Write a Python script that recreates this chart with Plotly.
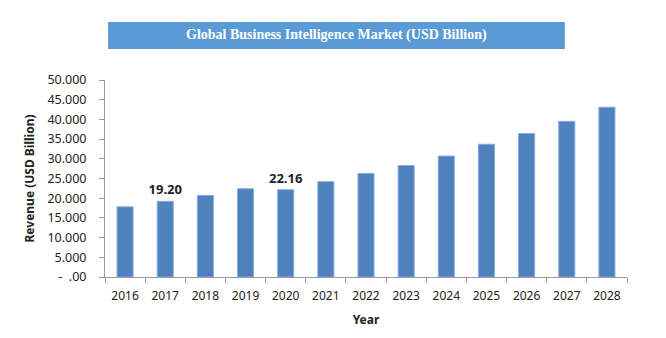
import plotly.graph_objects as go

years = ["2016", "2017", "2018", "2019", "2020", "2021", "2022",
         "2023", "2024", "2025", "2026", "2027", "2028"]
revenue = [17.8, 19.20, 20.7, 22.4, 22.16, 24.2, 26.3, 28.3, 30.7, 33.7, 36.4, 39.5, 43.1]
labels = ["", "<b>19.20</b>", "", "", "<b>22.16</b>", "", "", "", "", "", "", "", ""]
ytick_vals = [0, 5, 10, 15, 20, 25, 30, 35, 40, 45, 50]
ytick_text = ["-  .00", "5.000", "10.000", "15.000", "20.000", "25.000", "30.000",
              "35.000", "40.000", "45.000", "50.000"]
title_text = "Global Business Intelligence Market (USD Billion)"

fig = go.Figure()
fig.add_trace(go.Bar(
    x=years, y=revenue, text=labels, textposition="outside",
    constraintext="none",
    textfont=dict(family="Noto Sans", size=13, color="#222"),
    cliponaxis=False,
    marker=dict(color="#4F81BD", line=dict(color="#86acdc", width=1)),
    width=0.4, hoverinfo="x+y",
))

fig.add_shape(type="rect", xref="paper", yref="paper",
              x0=0.006, x1=0.881, y0=1.157, y1=1.294,
              fillcolor="#5B9BD5", line=dict(width=0), layer="above")
fig.add_annotation(xref="paper", yref="paper", x=0.443, y=1.23,
                   xanchor="center", yanchor="middle",
                   text="<b>" + title_text + "</b>", showarrow=False,
                   font=dict(family="Liberation Serif", size=14, color="white"))

fig.update_layout(
    width=666, height=338,
    margin=dict(l=105, r=39, t=80, b=61),
    paper_bgcolor="white", plot_bgcolor="white",
    showlegend=False, bargap=0.6,
    font=dict(family="Noto Sans", size=12, color="#222"),
)
fig.update_xaxes(
    showline=True, linecolor="#999", linewidth=1,
    ticks="outside", ticklen=5, tickcolor="#999", tickson="boundaries",
    showgrid=False, tickfont=dict(size=12), ticklabelstandoff=8,
    title=dict(text="<b>Year</b>", font=dict(size=12), standoff=12),
)
fig.update_yaxes(
    range=[0, 50], tickvals=ytick_vals, ticktext=ytick_text,
    showline=True, linecolor="#999", linewidth=1,
    ticks="outside", ticklen=5, tickcolor="#999",
    showgrid=False, zeroline=False, tickfont=dict(size=12.5),
    ticklabelstandoff=10,
    title=dict(text="<b>Revenue (USD Billion)</b>", font=dict(size=12), standoff=10),
)

fig.write_html("out.html")
